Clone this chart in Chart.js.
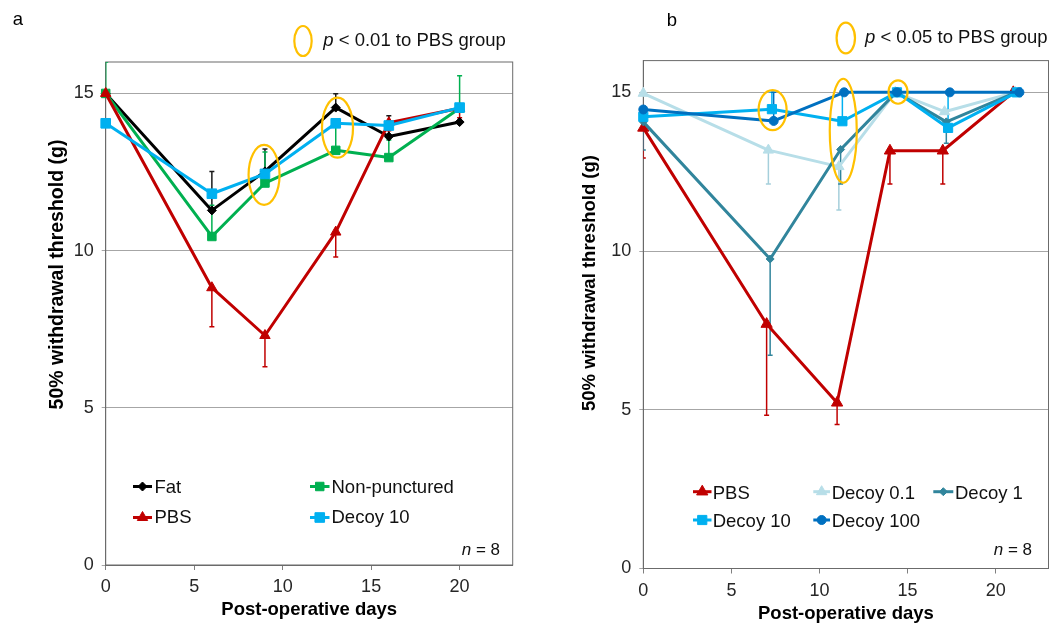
<!DOCTYPE html>
<html><head><meta charset="utf-8">
<script src="https://cdn.jsdelivr.net/npm/chart.js@4.4.1/dist/chart.umd.min.js"></script>
<style>
html,body{margin:0;padding:0;background:#fff;}
#wrap{position:relative;width:1056px;height:625px;overflow:hidden;background:#fff}
canvas{position:absolute;top:0}
</style>
</head><body>
<div id="wrap">
<canvas id="ca" width="528" height="625" style="left:0;width:528px;height:625px"></canvas>
<canvas id="cb" width="528" height="625" style="left:528px;width:528px;height:625px"></canvas>
</div>
<script>
// ---------- Panel a data ----------
const daysA = [0, 6, 9, 13, 16, 20];
const fatA = [15, 11.28, 12.52, 14.55, 13.63, 14.09];
const fatErrA = [0, 1.24, 0.71, 0.44, 0.66, 0];
const nonPuncA = [15, 10.45, 12.15, 13.19, 12.96, 14.53];
const nonPuncErrA = [1.0, 0.99, 0.99, 0.86, 0.56, 1.03];
const pbsA = [15, 8.82, 7.30, 10.59, 14.07, 14.53];
const pbsErrA = [0, 1.24, 0.99, 0.79, 0.26, 0.3];
const decoy10A = [14.05, 11.81, 12.44, 14.05, 13.98, 14.55];
const decoy10ErrA = [0, 0, 0, 0, 0, 0];
const sigDaysA = [8.95, 13.1];
const sigValsA = [12.41, 13.91];

// ---------- Panel b data ----------
const pbsDaysB = [0, 7, 11, 14, 17, 21];
const pbsB = [13.88, 7.70, 5.22, 13.16, 13.16, 15];
const pbsErrB = [0.95, 2.87, 0.68, 1.05, 1.05, 0];
const d01DaysB = [0, 7.1, 11.1, 14.3, 17.1, 21.1];
const d01B = [14.97, 13.18, 12.66, 15, 14.39, 15];
const d01ErrB = [0, 1.07, 1.37, 0, 0, 0];
const d1DaysB = [0, 7.2, 11.2, 14.35, 17.2, 21.15];
const d1B = [14.07, 9.75, 13.2, 15, 14.07, 15];
const d1ErrB = [0.89, 3.03, 1.09, 0, 0.67, 0];
const d10DaysB = [0, 7.3, 11.3, 14.4, 17.3, 21.2];
const d10B = [14.23, 14.47, 14.09, 15, 13.88, 15];
const d10ErrB = [0, 0.53, 0.91, 0, 1.1, 0];
const d100DaysB = [0, 7.4, 11.4, 14.4, 17.4, 21.35];
const d100B = [14.46, 14.1, 15, 15, 15, 15];
const d100ErrB = [0, 0.9, 0, 0, 0, 0];
const sigDaysB = [7.34, 11.35, 14.46];
const sigValsB = [14.44, 13.79, 15.01];

// ---------- ticks ----------
const xTickVals = [0, 5, 10, 15, 20];
const yTickVals = [0, 5, 10, 15];

const FONT = "'Liberation Sans', Arial, sans-serif";
Chart.defaults.font.family = FONT;
Chart.defaults.font.size = 18;
Chart.defaults.color = '#262626';

function pts(xs, ys) { return xs.map((x, i) => ({ x: x, y: ys[i] })); }

function series(label, xs, ys, errs, dir, color, errColor, style, radius, order) {
  return {
    label: label, data: pts(xs, ys), errors: errs, errDir: dir, errColor: errColor,
    borderColor: color, backgroundColor: color, pointBackgroundColor: color, pointBorderColor: color,
    pointStyle: style, pointRadius: radius, pointBorderWidth: 1, borderWidth: 3,
    borderJoinStyle: 'round', tension: 0, clip: false, order: order, fill: false
  };
}

function drawMarker(ctx, style, r, x, y, color) {
  ctx.save();
  ctx.fillStyle = color; ctx.strokeStyle = color; ctx.lineWidth = 1;
  ctx.beginPath();
  if (style === 'rect') {
    const s = r * Math.SQRT1_2; ctx.rect(x - s, y - s, 2 * s, 2 * s);
  } else if (style === 'rectRot') {
    ctx.moveTo(x - r, y); ctx.lineTo(x, y - r); ctx.lineTo(x + r, y); ctx.lineTo(x, y + r); ctx.closePath();
  } else if (style === 'triangle') {
    let rad = 0;
    ctx.moveTo(x + Math.sin(rad) * r, y - Math.cos(rad) * r);
    rad += 2 * Math.PI / 3;
    ctx.lineTo(x + Math.sin(rad) * r, y - Math.cos(rad) * r);
    rad += 2 * Math.PI / 3;
    ctx.lineTo(x + Math.sin(rad) * r, y - Math.cos(rad) * r);
    ctx.closePath();
  } else {
    ctx.arc(x, y, r, 0, Math.PI * 2);
  }
  ctx.fill(); ctx.stroke();
  ctx.restore();
}

function italicThenRegular(ctx, x, y, it, rest, size, align) {
  ctx.font = 'italic ' + size + 'px ' + FONT;
  const w1 = ctx.measureText(it).width;
  ctx.font = size + 'px ' + FONT;
  const w2 = ctx.measureText(rest).width;
  let x0 = align === 'right' ? x - w1 - w2 : x;
  ctx.textAlign = 'left';
  ctx.font = 'italic ' + size + 'px ' + FONT;
  ctx.fillText(it, x0, y);
  ctx.font = size + 'px ' + FONT;
  ctx.fillText(rest, x0 + w1, y);
}

function makeDecor(cfg) {
  return {
    id: 'decor',
    beforeDatasetsDraw(chart) {
      const ctx = chart.ctx, a = chart.chartArea, ys = chart.scales.y;
      ctx.save();
      ctx.strokeStyle = '#6b6b6b'; ctx.lineWidth = 1;
      ctx.strokeRect(a.left, a.top, a.right - a.left, a.bottom - a.top);
      ctx.beginPath(); ctx.rect(a.left, a.top, a.right - a.left, a.bottom - a.top); ctx.clip();
      chart.data.datasets.forEach((ds, di) => {
        const meta = chart.getDatasetMeta(di);
        ctx.strokeStyle = ds.errColor; ctx.lineWidth = 1.5;
        ds.errors.forEach((e, i) => {
          if (!e) return;
          const p = meta.data[i];
          const y1 = ys.getPixelForValue(ds.data[i].y + ds.errDir * e);
          ctx.beginPath();
          ctx.moveTo(p.x, p.y); ctx.lineTo(p.x, y1);
          ctx.moveTo(p.x - 2.5, y1); ctx.lineTo(p.x + 2.5, y1);
          ctx.stroke();
        });
      });
      ctx.restore();
    },
    afterDatasetsDraw(chart) {
      const ctx = chart.ctx, xs = chart.scales.x, ys = chart.scales.y;
      ctx.save();
      // significance ellipses
      ctx.strokeStyle = '#FFC000'; ctx.lineWidth = 2.2;
      cfg.sigX.forEach((sx, i) => {
        const cx = xs.getPixelForValue(sx), cy = ys.getPixelForValue(cfg.sigY[i]);
        ctx.beginPath(); ctx.ellipse(cx, cy, cfg.sigR[i][0], cfg.sigR[i][1], 0, 0, Math.PI * 2); ctx.stroke();
      });
      // legend
      ctx.fillStyle = '#111';
      ctx.textBaseline = 'alphabetic';
      cfg.legend.forEach(it => {
        const ds = chart.data.datasets[it.ds];
        ctx.strokeStyle = ds.borderColor; ctx.lineWidth = 3;
        ctx.beginPath(); ctx.moveTo(it.x0, it.ly); ctx.lineTo(it.x1, it.ly); ctx.stroke();
        drawMarker(ctx, ds.pointStyle, ds.pointRadius, (it.x0 + it.x1) / 2, it.ly, ds.borderColor);
        ctx.fillStyle = '#111';
        ctx.font = '18.5px ' + FONT; ctx.textAlign = 'left';
        ctx.fillText(ds.label, it.tx, it.by);
      });
      // n = 8
      ctx.fillStyle = '#111';
      italicThenRegular(ctx, cfg.nX, cfg.nY, 'n', ' = 8', 17, 'right');
      ctx.restore();
    },
    afterDraw(chart) {
      const ctx = chart.ctx;
      ctx.save();
      ctx.fillStyle = '#000';
      ctx.textBaseline = 'alphabetic';
      ctx.textAlign = 'left';
      ctx.font = '18.5px ' + FONT;
      ctx.fillText(cfg.letter, cfg.letterX, cfg.letterY);
      ctx.strokeStyle = '#FFC000'; ctx.lineWidth = 2.2;
      ctx.beginPath(); ctx.ellipse(cfg.keyX, cfg.keyY, cfg.keyR[0], cfg.keyR[1], 0, 0, Math.PI * 2); ctx.stroke();
      ctx.fillStyle = '#111';
      italicThenRegular(ctx, cfg.pX, cfg.pY, 'p', ' < ' + cfg.pText, 18.5, 'left');
      // y axis title
      ctx.save();
      ctx.translate(cfg.yTitleX, cfg.yTitleY);
      ctx.rotate(-Math.PI / 2);
      ctx.textAlign = 'center'; ctx.textBaseline = 'middle';
      ctx.font = 'bold ' + cfg.yTitleSize + 'px ' + FONT;
      ctx.fillStyle = '#000';
      ctx.fillText('50% withdrawal threshold (g)', 0, 0);
      ctx.restore();
      ctx.restore();
    }
  };
}

function makeOptions(p) {
  return {
    responsive: false, animation: false, devicePixelRatio: 1,
    layout: { padding: { left: 0, top: p.top, right: p.right, bottom: 0 } },
    plugins: { legend: { display: false }, tooltip: { enabled: false } },
    scales: {
      x: {
        type: 'linear', min: 0, max: 23,
        afterBuildTicks: s => { s.ticks = xTickVals.map(v => ({ value: v })); },
        afterFit: s => { s.height = p.xh; },
        grid: { drawOnChartArea: false, drawTicks: true, tickLength: 5, color: '#7f7f7f' },
        border: { color: '#6b6b6b', width: 1 },
        ticks: { padding: p.xpad, autoSkip: false, maxRotation: 0, color: '#262626', font: { size: 18 } },
        title: { display: true, text: 'Post-operative days', color: '#000',
                 font: { size: 18.5, weight: 'bold' }, padding: { top: 0, bottom: p.xtpad } }
      },
      y: {
        type: 'linear', min: 0, max: 16,
        afterBuildTicks: s => { s.ticks = yTickVals.map(v => ({ value: v })); },
        afterFit: s => { s.width = p.yw; },
        grid: { color: '#a6a6a6', tickLength: 4, lineWidth: 1 },
        border: { color: '#6b6b6b', width: 1 },
        ticks: { padding: 8, color: '#262626', font: { size: 18 } }
      }
    }
  };
}

// ---------- Chart a ----------
new Chart(document.getElementById('ca'), {
  type: 'line',
  data: {
    datasets: [
      series('Fat', daysA, fatA, fatErrA, 1, '#000000', '#1a1a1a', 'rectRot', 4.5, 4),
      series('Non-punctured', daysA, nonPuncA, nonPuncErrA, 1, '#00B050', '#00B050', 'rect', 6, 3),
      series('PBS', daysA, pbsA, pbsErrA, -1, '#C00000', '#C00000', 'triangle', 6, 2),
      series('Decoy 10', daysA, decoy10A, decoy10ErrA, 1, '#00B0F0', '#00B0F0', 'rect', 6.8, 1)
    ]
  },
  options: makeOptions({ top: 62, right: 15.3, xh: 60, xpad: 6, xtpad: 4, yw: 105.7 }),
  plugins: [makeDecor({
    sigX: sigDaysA, sigY: sigValsA, sigR: [[15.5, 30], [15.5, 30]],
    legend: [
      { ds: 0, x0: 133, x1: 152, ly: 486.5, tx: 154.5, by: 493.3 },
      { ds: 1, x0: 310, x1: 329.5, ly: 486.5, tx: 331.5, by: 493.3 },
      { ds: 2, x0: 133, x1: 152, ly: 517.5, tx: 154.5, by: 523.3 },
      { ds: 3, x0: 310, x1: 329.5, ly: 517.5, tx: 331.5, by: 523.3 }
    ],
    nX: 500, nY: 555,
    letter: 'a', letterX: 12.7, letterY: 25,
    keyX: 303, keyY: 41, keyR: [8.7, 15],
    pX: 323.3, pY: 45.7, pText: '0.01 to PBS group',
    yTitleX: 58, yTitleY: 274.5, yTitleSize: 19.5
  })]
});

// ---------- Chart b ----------
new Chart(document.getElementById('cb'), {
  type: 'line',
  data: {
    datasets: [
      series('PBS', pbsDaysB, pbsB, pbsErrB, -1, '#C00000', '#C00000', 'triangle', 6.5, 5),
      series('Decoy 0.1', d01DaysB, d01B, d01ErrB, -1, '#B7DEE8', '#A5CFDB', 'triangle', 6, 4),
      series('Decoy 1', d1DaysB, d1B, d1ErrB, -1, '#31859C', '#31859C', 'rectRot', 4, 3),
      series('Decoy 10', d10DaysB, d10B, d10ErrB, 1, '#00B0F0', '#00B0F0', 'rect', 6.5, 2),
      series('Decoy 100', d100DaysB, d100B, d100ErrB, 1, '#0070C0', '#0070C0', 'circle', 4.5, 1)
    ]
  },
  options: makeOptions({ top: 60.6, right: 7.4, xh: 56.5, xpad: 7, xtpad: 0, yw: 115.3 }),
  plugins: [makeDecor({
    sigX: sigDaysB, sigY: sigValsB, sigR: [[14, 20], [13.5, 52], [9.5, 11.7]],
    legend: [
      { ds: 0, x0: 165, x1: 183.5, ly: 491.7, tx: 184.7, by: 499.3 },
      { ds: 1, x0: 285.3, x1: 302, ly: 491.7, tx: 303.7, by: 499.3 },
      { ds: 2, x0: 405.3, x1: 425.3, ly: 491.7, tx: 427, by: 499.3 },
      { ds: 3, x0: 165, x1: 183.5, ly: 520, tx: 184.7, by: 527.3 },
      { ds: 4, x0: 285.3, x1: 302, ly: 520, tx: 303.7, by: 527.3 }
    ],
    nX: 504, nY: 555,
    letter: 'b', letterX: 138.7, letterY: 25.7,
    keyX: 317.8, keyY: 38, keyR: [9.2, 15.3],
    pX: 337, pY: 43.3, pText: '0.05 to PBS group',
    yTitleX: 62.4, yTitleY: 283, yTitleSize: 18.5
  })]
});
</script>
</body></html>
